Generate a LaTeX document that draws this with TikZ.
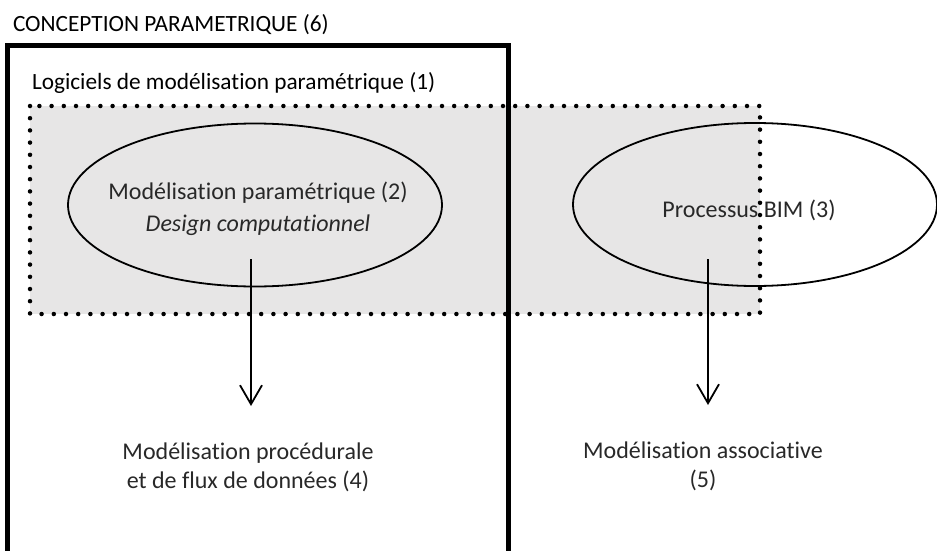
\documentclass[tikz,border=0pt]{standalone}
\usepackage{fontspec}
\setmainfont[Ligatures=NoCommon]{Carlito}
\usetikzlibrary{arrows.meta,shapes.geometric}
\definecolor{panelgray}{RGB}{231,230,230}
\definecolor{lighttext}{RGB}{40,40,40}
\begin{document}
\begin{tikzpicture}[x=1pt,y=-1pt,
  every node/.style={inner sep=0pt, outer sep=0pt},
  body/.style={font=\fontsize{24}{30}\selectfont, text=lighttext, anchor=base},
  heading/.style={font=\fontsize{23.3}{28}\selectfont, text=black, anchor=base west},
  oval/.style={draw=black, line width=1.8pt, ellipse, minimum width=#1, minimum height=163pt},
  dotborder/.style={line width=4.5pt, line cap=round, dash pattern=on 0pt off 12.2pt},
  frame/.style={line width=5pt, line join=miter},
  arr/.style={line width=1.8pt, -{Straight Barb[length=19pt,width=22pt]}}
]
\useasboundingbox (0,0) rectangle (937,551);
\clip (0,0) rectangle (937,551);
% shaded panel of the parametric software
\fill[panelgray] (30,106) rectangle (760,314);
% ellipses
\node[oval=374pt] (e1) at (255,205) {};
\node[oval=364pt] (e2) at (755,204.5) {};
% dotted border
\draw[dotborder] (30,106) rectangle (760,314);
% thick frame (6)
\draw[frame] (7,575) -- (7,46) -- (508,46) -- (508,575);
% texts
\node[heading] (t6) at (13,32) {CONCEPTION PARAMETRIQUE (6)};
\node[heading] (t1) at (32,89) {Logiciels de modélisation paramétrique (1)};
\node[body] (t2a) at (258,199) {Modélisation paramétrique (2)};
\node[body] (t2b) at (258,231) {\itshape Design computationnel};
\node[body] (t3) at (749,217) {Processus BIM (3)};
\node[body] (t4a) at (248,459) {Modélisation procédurale};
\node[body] (t4b) at (248,488) {et de flux de données (4)};
\node[body] (t5a) at (703,458) {Modélisation associative};
\node[body] (t5b) at (703,487) {(5)};
% arrows
\coordinate (s1) at (251,259);
\coordinate (h1) at (251,406);
\coordinate (s2) at (708,259);
\coordinate (h2) at (708,405);
\draw[arr] (s1) -- (h1);
\draw[arr] (s2) -- (h2);
\end{tikzpicture}
\end{document}
